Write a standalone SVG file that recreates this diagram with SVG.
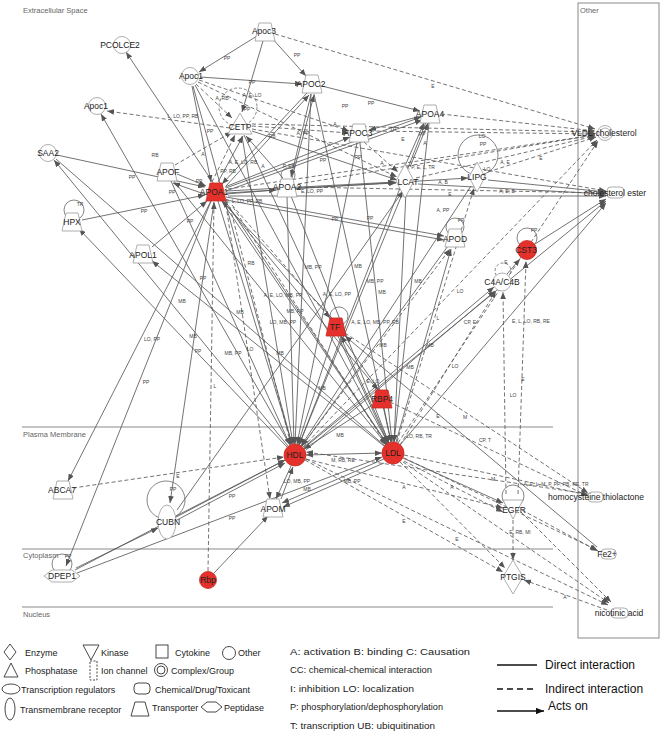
<svg xmlns="http://www.w3.org/2000/svg" xmlns:xlink="http://www.w3.org/1999/xlink" width="662" height="739" viewBox="0 0 662 739">
<style>
.d{stroke:#5a5a5a;stroke-width:.85;fill:none;marker-end:url(#a)}
.i{stroke:#5a5a5a;stroke-width:.85;fill:none;stroke-dasharray:4 2.5;marker-end:url(#a)}
.dn{stroke:#5a5a5a;stroke-width:.85;fill:none}
.db{stroke:#5a5a5a;stroke-width:.85;fill:none;marker-end:url(#a);marker-start:url(#a)}
.lp{fill:none;stroke:#666;stroke-width:.8}
.lpi{fill:none;stroke:#666;stroke-width:.8;stroke-dasharray:3 2}
.el{font-family:"Liberation Sans",Arial,sans-serif;font-size:5px;fill:#444;text-anchor:middle}
.nl{font-family:"Liberation Sans",Arial,sans-serif;font-size:8.5px;fill:#222;text-anchor:middle}
.sh{fill:#fff;stroke:#9a9a9a;stroke-width:.8}
.rd{fill:#e5312b;stroke:#c62a25;stroke-width:.8}
.cl{font-family:"Liberation Sans",Arial,sans-serif;font-size:7.5px;fill:#666}
.cm{stroke:#8a8a8a;stroke-width:1;fill:none}
.lg{font-family:"Liberation Sans",Arial,sans-serif;font-size:9px;fill:#222}
.lgs{fill:#fff;stroke:#333;stroke-width:.9}
.lg2{font-family:"Liberation Sans",Arial,sans-serif;font-size:12px;fill:#111}
</style>
<defs>
<marker id="a" viewBox="0 0 10 8" refX="10" refY="4" markerWidth="7" markerHeight="5.6" orient="auto-start-reverse" markerUnits="userSpaceOnUse"><path d="M0,0L10,4L0,8z" fill="#555"/></marker>
<marker id="k" viewBox="0 0 10 8" refX="10" refY="4" markerWidth="8" markerHeight="6.4" orient="auto" markerUnits="userSpaceOnUse"><path d="M0,0L10,4L0,8z" fill="#111"/></marker>
<path id="tp" d="M-6,-9H6L10,9H-10Z"/>
</defs>
<rect width="662" height="739" fill="#fff"/>

<g id="compartments">
<line class="cm" x1="22" y1="427" x2="553" y2="427"/>
<line class="cm" x1="22" y1="549" x2="553" y2="549"/>
<line class="cm" x1="22" y1="607" x2="553" y2="607"/>
<rect class="cm" x="578" y="3" width="81" height="635"/>
<text class="cl" x="23" y="13">Extracellular Space</text>
<text class="cl" x="23" y="437">Plasma Membrane</text>
<text class="cl" x="23" y="558">Cytoplasm</text>
<text class="cl" x="23" y="617">Nucleus</text>
<text class="cl" x="580" y="13">Other</text>
</g>

<g id="connectors">
<line class="d" x1="257" y1="36" x2="199" y2="72"/>
<line class="d" x1="271" y1="37" x2="306" y2="76"/>
<line class="d" x1="263" y1="41" x2="242" y2="112"/>
<line class="i" x1="275" y1="34" x2="595" y2="129"/>
<line class="d" x1="200" y1="77" x2="302" y2="84"/>
<line class="i" x1="196" y1="84" x2="232" y2="118"/>
<line class="d" x1="192" y1="86" x2="211" y2="182"/>
<line class="i" x1="199" y1="80" x2="349" y2="131"/>
<line class="i" x1="198" y1="82" x2="397" y2="177"/>
<line class="i" x1="212" y1="182" x2="235" y2="135"/>
<line class="i" x1="175" y1="165" x2="232" y2="132"/>
<line class="i" x1="230" y1="128" x2="107" y2="111"/>
<line class="i" x1="252" y1="124" x2="595" y2="132"/>
<line class="i" x1="252" y1="129" x2="606" y2="191"/>
<line class="d" x1="252" y1="131" x2="397" y2="180"/>
<line class="i" x1="252" y1="126" x2="349" y2="133"/>
<line class="d" x1="218" y1="182" x2="243" y2="136"/>
<line class="d" x1="283" y1="178" x2="246" y2="136"/>
<line class="d" x1="307" y1="93" x2="222" y2="184"/>
<line class="d" x1="311" y1="94" x2="291" y2="177"/>
<line class="d" x1="322" y1="86" x2="420" y2="111"/>
<line class="d" x1="226" y1="186" x2="309" y2="95"/>
<line class="d" x1="292" y1="178" x2="314" y2="95"/>
<line class="d" x1="226" y1="188" x2="421" y2="117"/>
<line class="d" x1="226" y1="191" x2="422" y2="120"/>
<line class="d" x1="410" y1="167" x2="428" y2="123"/>
<line class="d" x1="404" y1="168" x2="424" y2="123"/>
<line class="i" x1="441" y1="114" x2="595" y2="131"/>
<line class="i" x1="370" y1="131" x2="595" y2="134"/>
<line class="d" x1="421" y1="116" x2="369" y2="130"/>
<line class="d" x1="225" y1="187" x2="350" y2="137"/>
<line class="i" x1="364" y1="142" x2="398" y2="172"/>
<line class="d" x1="226" y1="191" x2="395" y2="182"/>
<line class="i" x1="416" y1="178" x2="595" y2="136"/>
<line class="d" x1="418" y1="184" x2="606" y2="194"/>
<line class="i" x1="488" y1="172" x2="596" y2="137"/>
<line class="d" x1="488" y1="180" x2="606" y2="192"/>
<line class="d" x1="227" y1="193" x2="468" y2="178"/>
<line class="i" x1="228" y1="189" x2="595" y2="135"/>
<line class="d" x1="228" y1="196" x2="606" y2="196"/>
<line class="d" x1="298" y1="188" x2="396" y2="183"/>
<line class="d" x1="226" y1="194" x2="276" y2="190"/>
<line class="d" x1="177" y1="174" x2="206" y2="186"/>
<line class="d" x1="207" y1="195" x2="173" y2="183"/>
<line class="d" x1="226" y1="197" x2="444" y2="236"/>
<line class="d" x1="226" y1="200" x2="444" y2="240"/>
<line class="d" x1="57" y1="155" x2="205" y2="187"/>
<line class="d" x1="82" y1="220" x2="205" y2="195"/>
<line class="d" x1="152" y1="247" x2="207" y2="201"/>
<line class="i" x1="298" y1="184" x2="595" y2="135"/>
<line class="i" x1="298" y1="187" x2="606" y2="193"/>
<line class="d" x1="535" y1="244" x2="606" y2="199"/>

<line class="d" x1="218" y1="201" x2="292" y2="444"/>
<line class="d" x1="242" y1="136" x2="293" y2="444"/>
<line class="d" x1="311" y1="94" x2="295" y2="444"/>
<line class="d" x1="357" y1="143" x2="297" y2="444"/>
<line class="d" x1="426" y1="122" x2="299" y2="445"/>
<line class="d" x1="287" y1="197" x2="294" y2="444"/>
<line class="d" x1="403" y1="192" x2="299" y2="445"/>
<line class="d" x1="471" y1="186" x2="301" y2="446"/>
<line class="d" x1="448" y1="246" x2="302" y2="446"/>
<line class="d" x1="333" y1="336" x2="298" y2="444"/>
<line class="d" x1="374" y1="404" x2="304" y2="449"/>
<line class="d" x1="171" y1="181" x2="290" y2="445"/>
<line class="d" x1="193" y1="86" x2="292" y2="444"/>
<line class="i" x1="303" y1="447" x2="597" y2="140"/>
<line class="d" x1="304" y1="448" x2="606" y2="201"/>
<line class="i" x1="230" y1="207" x2="291" y2="445"/>
<line class="i" x1="302" y1="446" x2="450" y2="249"/>

<line class="d" x1="221" y1="200" x2="387" y2="444"/>
<line class="d" x1="244" y1="135" x2="388" y2="443"/>
<line class="d" x1="314" y1="94" x2="391" y2="442"/>
<line class="d" x1="360" y1="143" x2="392" y2="442"/>
<line class="d" x1="429" y1="123" x2="394" y2="442"/>
<line class="d" x1="291" y1="196" x2="389" y2="443"/>
<line class="d" x1="406" y1="192" x2="394" y2="442"/>
<line class="d" x1="396" y1="442" x2="451" y2="249"/>
<line class="i" x1="397" y1="442" x2="474" y2="188"/>
<line class="d" x1="340" y1="336" x2="389" y2="443"/>
<line class="d" x1="384" y1="408" x2="391" y2="442"/>
<line class="d" x1="195" y1="85" x2="388" y2="443"/>
<line class="d" x1="173" y1="180" x2="386" y2="444"/>
<line class="d" x1="400" y1="445" x2="606" y2="203"/>
<line class="i" x1="398" y1="443" x2="598" y2="141"/>
<line class="i" x1="233" y1="207" x2="387" y2="446"/>

<line class="d" x1="288" y1="446" x2="54" y2="160"/>
<line class="dn" x1="385" y1="446" x2="56" y2="159"/>
<line class="d" x1="290" y1="445" x2="101" y2="114"/>
<line class="d" x1="287" y1="447" x2="79" y2="229"/>
<line class="d" x1="387" y1="444" x2="126" y2="52"/>
<line class="d" x1="384" y1="446" x2="152" y2="261"/>
<line class="i" x1="73" y1="488" x2="284" y2="457"/>
<line class="d" x1="211" y1="201" x2="68" y2="481"/>
<line class="d" x1="211" y1="201" x2="66" y2="566"/>
<line class="d" x1="214" y1="202" x2="170" y2="503"/>
<line class="d" x1="176" y1="516" x2="285" y2="460"/>
<line class="d" x1="177" y1="520" x2="285" y2="463"/>
<line class="d" x1="177" y1="510" x2="403" y2="191"/>
<line class="d" x1="75" y1="570" x2="285" y2="460"/>
<line class="d" x1="77" y1="573" x2="382" y2="457"/>
<line class="d" x1="76" y1="568" x2="158" y2="528"/>
<line class="i" x1="208" y1="571" x2="214" y2="202"/>
<line class="d" x1="214" y1="573" x2="268" y2="516"/>
<line class="i" x1="226" y1="205" x2="270" y2="499"/>
<line class="d" x1="291" y1="466" x2="276" y2="499"/>
<line class="d" x1="281" y1="499" x2="293" y2="467"/>
<line class="d" x1="384" y1="459" x2="282" y2="503"/>
<line class="d" x1="384" y1="463" x2="283" y2="507"/>
<line class="db" x1="306" y1="455" x2="382" y2="453"/>

<line class="d" x1="304" y1="447" x2="494" y2="287"/>
<line class="d" x1="306" y1="450" x2="495" y2="291"/>
<line class="i" x1="400" y1="445" x2="496" y2="291"/>
<line class="d" x1="507" y1="274" x2="520" y2="259"/>
<line class="i" x1="506" y1="494" x2="503" y2="292"/>
<line class="i" x1="518" y1="494" x2="526" y2="261"/>
<line class="i" x1="513" y1="520" x2="513" y2="560"/>
<line class="d" x1="403" y1="458" x2="503" y2="503"/>
<line class="i" x1="306" y1="459" x2="503" y2="508"/>
<line class="i" x1="404" y1="461" x2="503" y2="512"/>
<line class="i" x1="404" y1="455" x2="588" y2="495"/>
<line class="i" x1="345" y1="333" x2="588" y2="493"/>
<line class="i" x1="390" y1="402" x2="588" y2="496"/>
<line class="d" x1="597" y1="547" x2="345" y2="336"/>
<line class="i" x1="404" y1="458" x2="597" y2="550"/>
<line class="i" x1="305" y1="460" x2="503" y2="572"/>
<line class="i" x1="400" y1="462" x2="505" y2="568"/>
<line class="i" x1="306" y1="459" x2="608" y2="605"/>
<line class="i" x1="403" y1="462" x2="609" y2="603"/>
<line class="i" x1="607" y1="610" x2="524" y2="580"/>
<line class="i" x1="521" y1="512" x2="611" y2="602"/>
<line class="i" x1="522" y1="510" x2="598" y2="551"/>
<line class="i" x1="588" y1="494" x2="306" y2="452"/>

<line class="d" x1="332" y1="318" x2="222" y2="201"/>
<line class="i" x1="232" y1="205" x2="330" y2="318"/>
<line class="d" x1="379" y1="390" x2="341" y2="336"/>
<line class="d" x1="223" y1="201" x2="378" y2="390"/>

<circle class="lpi" cx="238" cy="107" r="19"/>
<circle class="lp" cx="478" cy="155" r="20"/>
<circle class="lp" cx="288" cy="175" r="7"/>
<circle class="lp" cx="74" cy="210" r="10"/>
<circle class="lp" cx="455" cy="227" r="9"/>
<circle class="lp" cx="527" cy="238" r="10"/>
<circle class="lpi" cx="503" cy="271" r="8"/>
<circle class="lp" cx="339" cy="316" r="9"/>
<circle class="lp" cx="166" cy="500" r="19"/>
<circle class="lp" cx="513" cy="496" r="11"/>
<circle class="lp" cx="62" cy="564" r="10"/>

<text class="el" x="227" y="60">PP</text>
<text class="el" x="297" y="57">PP</text>
<text class="el" x="252" y="84">PP</text>
<text class="el" x="433" y="88">E</text>
<text class="el" x="222" y="100">A, RB</text>
<text class="el" x="252" y="97">A, E, LO</text>
<text class="el" x="247" y="111">PP</text>
<text class="el" x="183" y="118">L, LO, PP, RB</text>
<text class="el" x="210" y="133">PP</text>
<text class="el" x="155" y="157">RB</text>
<text class="el" x="203" y="156">A</text>
<text class="el" x="132" y="179">PP</text>
<text class="el" x="272" y="138">RB</text>
<text class="el" x="303" y="135">A, PP</text>
<text class="el" x="345" y="108">PP</text>
<text class="el" x="371" y="105">PP</text>
<text class="el" x="335" y="126">A</text>
<text class="el" x="393" y="131">TR</text>
<text class="el" x="403" y="141">E</text>
<text class="el" x="422" y="136">PP</text>
<text class="el" x="425" y="145">A</text>
<text class="el" x="382" y="165">A</text>
<text class="el" x="358" y="159">PP</text>
<text class="el" x="420" y="169">A, P, E, L, TR</text>
<text class="el" x="443" y="184">A, B</text>
<text class="el" x="450" y="196">E</text>
<text class="el" x="507" y="193">A, E, B</text>
<text class="el" x="541" y="160">E</text>
<text class="el" x="505" y="164">A, E</text>
<text class="el" x="482" y="138">LO</text>
<text class="el" x="483" y="146">PP</text>
<text class="el" x="487" y="171">LO</text>
<text class="el" x="243" y="164">A, E, LO, RB</text>
<text class="el" x="263" y="168">A</text>
<text class="el" x="228" y="173">PP, RB</text>
<text class="el" x="289" y="168">P, RB</text>
<text class="el" x="244" y="203">E, L, LO, PP, RB</text>
<text class="el" x="312" y="193">E, LO, PP</text>
<text class="el" x="323" y="162">PP</text>
<text class="el" x="199" y="183">PP</text>
<text class="el" x="172" y="194">PP</text>
<text class="el" x="190" y="223">PP</text>
<text class="el" x="144" y="213">PP</text>
<text class="el" x="80" y="206">TR</text>
<text class="el" x="443" y="212">A, PP</text>
<text class="el" x="461" y="222">PP</text>
<text class="el" x="335" y="221">PP</text>
<text class="el" x="370" y="220">PP</text>
<text class="el" x="251" y="265">RB</text>
<text class="el" x="313" y="269">MB, PP</text>
<text class="el" x="203" y="280">PP</text>
<text class="el" x="283" y="297">A, E, LO, MB, PP</text>
<text class="el" x="337" y="296">A, E, LO, PP</text>
<text class="el" x="182" y="303">MB</text>
<text class="el" x="295" y="313">MB, PP</text>
<text class="el" x="240" y="314">MB</text>
<text class="el" x="283" y="324">LO, MB, PP</text>
<text class="el" x="375" y="324">A, E, LO, MB, PP, RB</text>
<text class="el" x="358" y="268">MB</text>
<text class="el" x="375" y="283">MB, PP</text>
<text class="el" x="382" y="294">MB</text>
<text class="el" x="418" y="283">MB</text>
<text class="el" x="460" y="293">LO</text>
<text class="el" x="470" y="324">CP, E</text>
<text class="el" x="531" y="323">E, L, LO, RB, RE</text>
<text class="el" x="438" y="320">L</text>
<text class="el" x="152" y="341">LO, PP</text>
<text class="el" x="193" y="338">MB</text>
<text class="el" x="198" y="353">PP</text>
<text class="el" x="233" y="355">MB, PP</text>
<text class="el" x="250" y="351">LO</text>
<text class="el" x="280" y="355">MB</text>
<text class="el" x="383" y="347">MB</text>
<text class="el" x="430" y="347">MB</text>
<text class="el" x="410" y="369">MB</text>
<text class="el" x="455" y="368">LO</text>
<text class="el" x="523" y="381">E</text>
<text class="el" x="513" y="397">LO</text>
<text class="el" x="373" y="383">E, LO</text>
<text class="el" x="146" y="384">PP</text>
<text class="el" x="215" y="388">L</text>
<text class="el" x="322" y="390">MB</text>
<text class="el" x="438" y="418">E</text>
<text class="el" x="465" y="419">M</text>
<text class="el" x="485" y="442">CP, T</text>
<text class="el" x="419" y="438">LO, RB, TR</text>
<text class="el" x="340" y="437">MB</text>
<text class="el" x="343" y="462">M, RB, RE</text>
<text class="el" x="352" y="483">MB, PP</text>
<text class="el" x="297" y="483">LO, MB, PP</text>
<text class="el" x="307" y="491">MB</text>
<text class="el" x="404" y="489">A</text>
<text class="el" x="452" y="489">A</text>
<text class="el" x="493" y="481">M</text>
<text class="el" x="404" y="523">E</text>
<text class="el" x="457" y="541">E</text>
<text class="el" x="520" y="534">E, RB, MI</text>
<text class="el" x="556" y="486">A, E, L, M, P, PP, RB, RE, TR</text>
<text class="el" x="565" y="599">A</text>
<text class="el" x="178" y="478">E</text>
<text class="el" x="173" y="491">PP</text>
<text class="el" x="232" y="498">PP</text>
<text class="el" x="232" y="520">PP</text>
<text class="el" x="68" y="558">PP</text>
<text class="el" x="534" y="232">PP</text>
<text class="el" x="506" y="264">E</text>
</g>

<g id="n-Apoc3"><use href="#tp" x="265" y="32" class="sh"/><text class="nl" x="264" y="34">Apoc3</text></g>
<g id="n-PCOLCE2"><circle class="sh" cx="122" cy="45" r="8.5"/><text class="nl" x="120" y="48">PCOLCE2</text></g>
<g id="n-Apoc1-a"><circle class="sh" cx="190" cy="76" r="8.5"/><text class="nl" x="191" y="79">Apoc1</text></g>
<g id="n-APOC2"><use href="#tp" x="312" y="84" class="sh"/><text class="nl" x="311" y="87">APOC2</text></g>
<g id="n-Apoc1-b"><circle class="sh" cx="97" cy="106" r="8.5"/><text class="nl" x="96" y="109">Apoc1</text></g>
<g id="n-CETP"><path class="sh" d="M240,113L252,134H228Z"/><text class="nl" x="240" y="130">CETP</text></g>
<g id="n-APOA4"><use href="#tp" x="430" y="114" class="sh"/><text class="nl" x="430" y="117">APOA4</text></g>
<g id="n-APOC3"><use href="#tp" x="359" y="133" class="sh"/><text class="nl" x="358" y="136">APOC3</text></g>
<g id="n-VLDL"><circle class="sh" cx="605" cy="133" r="7.5"/><circle class="sh" cx="605" cy="133" r="5"/><text class="nl" x="604" y="136">VLDL-cholesterol</text></g>
<g id="n-SAA2"><circle class="sh" cx="48" cy="153" r="8.5"/><text class="nl" x="48" y="156">SAA2</text></g>
<g id="n-APOF"><use href="#tp" x="167" y="172" class="sh"/><text class="nl" x="168" y="175">APOF</text></g>
<g id="n-APOA1"><use href="#tp" x="216" y="192" class="rd"/><text class="nl" x="214" y="195">APOA1</text></g>
<g id="n-APOA2"><use href="#tp" x="287" y="188" class="sh"/><text class="nl" x="287" y="190">APOA2</text></g>
<g id="n-LCAT"><path class="sh" d="M405,164L414,181L405,198L396,181Z"/><text class="nl" x="408" y="185">LCAT</text></g>
<g id="n-LIPG"><path class="sh" d="M477,162L485,177L477,192L469,177Z"/><text class="nl" x="477" y="180">LIPG</text></g>
<g id="n-CHE"><rect class="sh" x="607" y="187" width="17" height="11" rx="4"/><text class="nl" x="615" y="196">cholesterol ester</text></g>
<g id="n-HPX"><use href="#tp" x="72" y="222" class="sh"/><text class="nl" x="72" y="225">HPX</text></g>
<g id="n-APOL1"><use href="#tp" x="143" y="254" class="sh"/><text class="nl" x="143" y="258">APOL1</text></g>
<g id="n-APOD"><use href="#tp" x="455" y="238" class="sh"/><text class="nl" x="455" y="242">APOD</text></g>
<g id="n-CST3"><circle class="rd" cx="527" cy="250" r="9.5"/><text class="nl" x="526" y="253">CST3</text></g>
<g id="n-C4"><circle class="sh" cx="502" cy="282" r="9"/><text class="nl" x="502" y="285">C4A/C4B</text></g>
<g id="n-TF"><use href="#tp" x="336" y="327" class="rd"/><text class="nl" x="335" y="330">TF</text></g>
<g id="n-RBP4"><use href="#tp" x="382" y="399" class="rd"/><text class="nl" x="382" y="402">RBP4</text></g>
<g id="n-HDL"><circle class="rd" cx="295" cy="455" r="11"/><text class="nl" x="295" y="458">HDL</text></g>
<g id="n-LDL"><circle class="rd" cx="393" cy="453" r="11"/><text class="nl" x="393" y="456">LDL</text></g>
<g id="n-ABCA7"><use href="#tp" x="63" y="490" class="sh"/><text class="nl" x="62" y="493">ABCA7</text></g>
<g id="n-CUBN"><ellipse class="sh" cx="167" cy="522" rx="9" ry="17"/><text class="nl" x="168" y="525">CUBN</text></g>
<g id="n-APOM"><use href="#tp" x="273" y="508" class="sh"/><text class="nl" x="273" y="512">APOM</text></g>
<g id="n-EGFR"><path class="sh" d="M503,500H523L513,519Z"/><text class="nl" x="514" y="513">EGFR</text></g>
<g id="n-HOMO"><rect class="sh" x="588" y="492" width="15" height="10" rx="4"/><text class="nl" x="596" y="500">homocysteine thiolactone</text></g>
<g id="n-DPEP1"><path class="sh" d="M44,576L52,570H72L80,576L72,582H52Z"/><text class="nl" x="62" y="579">DPEP1</text></g>
<g id="n-Rbp"><circle class="rd" cx="208" cy="580" r="8.5"/><text class="nl" x="208" y="583">Rbp</text></g>
<g id="n-Fe2"><rect class="sh" x="601" y="549" width="15" height="10" rx="4"/><text class="nl" x="607" y="557">Fe2+</text></g>
<g id="n-PTGIS"><path class="sh" d="M513,560L523,577L513,594L503,577Z"/><text class="nl" x="513" y="580">PTGIS</text></g>
<g id="n-NIC"><rect class="sh" x="611" y="608" width="17" height="10" rx="4"/><text class="nl" x="619" y="616">nicotinic acid</text></g>

<g id="legend">
<path class="lgs" d="M10,644L16,652L10,660L4,652Z"/><text class="lg" x="25" y="656">Enzyme</text>
<path class="lgs" d="M83,645H99L91,660Z"/><text class="lg" x="101" y="656">Kinase</text>
<rect class="lgs" x="156" y="645" width="12" height="13"/><text class="lg" x="175" y="656">Cytokine</text>
<circle class="lgs" cx="229" cy="653" r="6.5"/><text class="lg" x="238" y="656">Other</text>
<path class="lgs" d="M4,677H18L11,663Z"/><text class="lg" x="25" y="674">Phosphatase</text>
<rect class="lgs" x="90" y="661" width="7" height="19" stroke-dasharray="2 1.5"/><text class="lg" x="101" y="674">Ion channel</text>
<circle class="lgs" cx="161" cy="670" r="6.5"/><circle class="lgs" cx="161" cy="670" r="4"/><text class="lg" x="171" y="674">Complex/Group</text>
<ellipse class="lgs" cx="11" cy="689" rx="9" ry="5"/><text class="lg" x="21" y="693">Transcription regulators</text>
<rect class="lgs" x="134" y="683" width="16" height="11" rx="4"/><text class="lg" x="155" y="693">Chemical/Drug/Toxicant</text>
<ellipse class="lgs" cx="10" cy="709" rx="5" ry="11"/><text class="lg" x="20" y="713">Transmembrane receptor</text>
<path class="lgs" d="M135,702H145L149,716H131Z"/><text class="lg" x="152" y="711">Transporter</text>
<path class="lgs" d="M201,707L207,702H216L222,707L216,712H207Z"/><text class="lg" x="224" y="711">Peptidase</text>
<text class="lg" x="290" y="655" textLength="180" lengthAdjust="spacingAndGlyphs">A: activation B: binding C: Causation</text>
<text class="lg" x="290" y="673" textLength="142" lengthAdjust="spacingAndGlyphs">CC: chemical-chemical interaction</text>
<text class="lg" x="290" y="692" textLength="124" lengthAdjust="spacingAndGlyphs">I: inhibition   LO: localization</text>
<text class="lg" x="290" y="710" textLength="153" lengthAdjust="spacingAndGlyphs">P: phosphorylation/dephosphorylation</text>
<text class="lg" x="290" y="729" textLength="145" lengthAdjust="spacingAndGlyphs">T: transcription UB: ubiquitination</text>
<line x1="497" y1="665" x2="537" y2="665" stroke="#111" stroke-width="1.6"/>
<text class="lg2" x="545" y="669">Direct interaction</text>
<line x1="497" y1="689" x2="537" y2="689" stroke="#111" stroke-width="1.6" stroke-dasharray="6 4"/>
<text class="lg2" x="545" y="693">Indirect interaction</text>
<line x1="497" y1="711" x2="544" y2="711" stroke="#111" stroke-width="1.4" marker-end="url(#k)"/>
<text class="lg2" x="548" y="710">Acts on</text>
</g>
</svg>
